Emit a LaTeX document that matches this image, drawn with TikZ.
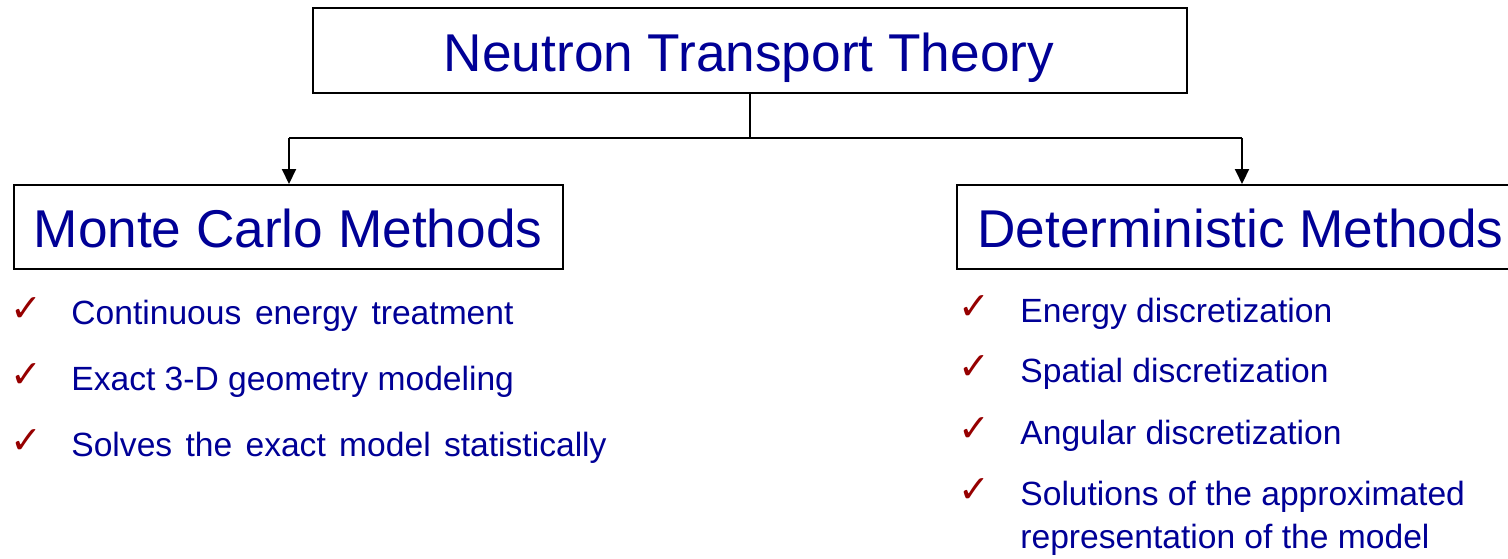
\documentclass[tikz,border=0pt]{standalone}
\usepackage{fontspec}
\setmainfont{Liberation Sans}
\newfontfamily\symfont{DejaVu Sans}
\usetikzlibrary{arrows.meta}
\definecolor{txtblue}{RGB}{0,0,150}
\definecolor{chkred}{RGB}{150,0,0}
\tikzset{
  box/.style={draw=black, line width=1pt, inner sep=0pt, fill=white},
  big/.style={font=\fontsize{26.6}{30}\selectfont, text=txtblue, inner sep=0pt, anchor=base},
  item/.style={font=\fontsize{16.8}{20}\selectfont, text=txtblue, inner sep=0pt, anchor=base west},
  chk/.style={font=\symfont\fontsize{19}{22}\selectfont, text=chkred, inner sep=0pt, anchor=base west},
  conn/.style={line width=1pt, draw=black},
  arr/.style={conn, -{Triangle[width=7pt,length=7.5pt]}}
}
\begin{document}
\begin{tikzpicture}[x=0.5pt,y=-0.5pt]
\useasboundingbox (0,0) rectangle (1508,558);
% boxes
\node[box, minimum width=437pt, minimum height=42.5pt] (title) at (750,50.5) {};
\node[big] (titletxt) at (749,71) {Neutron Transport Theory};
\node[box, minimum width=274.5pt, minimum height=42pt] (mc) at (288.5,227) {};
\node[big] (mctxt) at (288,247) {Monte Carlo Methods};
\node[box, minimum width=290pt, minimum height=42pt] (det) at (1247,227) {};
\node[big, anchor=base west] (dettxt) at (977,247) {Deterministic Methods};
% connectors
\coordinate (j) at (750,138);
\coordinate (jl) at (289,138);
\coordinate (jr) at (1242,138);
\draw[conn] (title.south) -- (j);
\draw[conn] (jl) -- (jr);
\draw[arr] (jl) -- (jl |- mc.north);
\draw[arr] (jr) -- (jr |- det.north);
% left list
\node[chk] (c1) at (10,321) {✓};
\node[item] (l1) at (71,324) {Continuous\hspace{2.2pt} energy\hspace{2.2pt} treatment};
\node[chk] (c2) at (10,387) {✓};
\node[item] (l2) at (71,390) {Exact 3-D geometry modeling};
\node[chk] (c3) at (10,453) {✓};
\node[item] (l3) at (71,456) {Solves\hspace{2pt} the\hspace{2pt} exact\hspace{2pt} model\hspace{2pt} statistically};
% right list
\node[chk] (c4) at (958,319) {✓};
\node[item] (r1) at (1020,322) {Energy discretization};
\node[chk] (c5) at (958,379) {✓};
\node[item] (r2) at (1020,382) {Spatial discretization};
\node[chk] (c6) at (958,441) {✓};
\node[item] (r3) at (1020,444) {Angular discretization};
\node[chk] (c7) at (958,502) {✓};
\node[item] (r4) at (1020,505) {Solutions of the approximated};
\node[item] (r5) at (1020,548) {representation of the model};
\end{tikzpicture}
\end{document}
